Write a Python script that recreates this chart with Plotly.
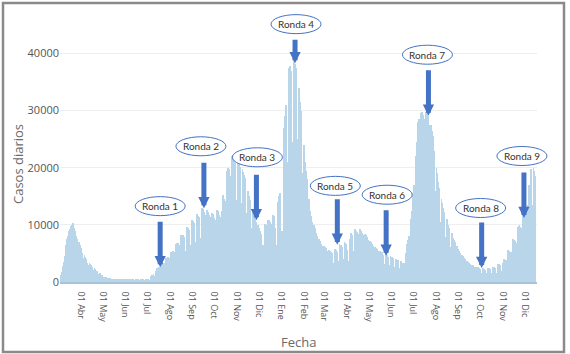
import pandas as pd
import plotly.graph_objects as go

# ---------------- data ----------------
fecha_inicio = "2020-03-02"   # first bar (Monday); one value per day

casos_diarios = [
    # 2020
    300, 500, 800, 1200, 1800, 2300, 2800,          # Mar 2
    3500, 4500, 5500, 6500, 7500, 7800, 8000,       # Mar 9
    9000, 9300, 9500, 9800, 10000, 10400, 9200,     # Mar 16
    9500, 9000, 8500, 8000, 7500, 6800, 6200,       # Mar 23
    7000, 6500, 6000, 5500, 5000, 4200, 3800,       # Mar 30
    4800, 4400, 4000, 3700, 3400, 2900, 2600,       # Apr 6
    3300, 3100, 2900, 2700, 2500, 2100, 1900,       # Apr 13
    2400, 2200, 2000, 1900, 1700, 1400, 1200,       # Apr 20
    1500, 1400, 1300, 1150, 1000, 800, 700,         # Apr 27
    900, 850, 800, 750, 700, 550, 480,              # May 4
    650, 620, 600, 580, 560, 420, 380,              # May 11
    560, 540, 520, 510, 500, 360, 320,              # May 18
    520, 500, 490, 480, 470, 340, 300,              # May 25
    500, 480, 470, 460, 450, 320, 280,              # Jun 1
    490, 470, 460, 450, 440, 310, 270,              # Jun 8
    480, 470, 460, 450, 440, 300, 270,              # Jun 15
    520, 500, 490, 480, 470, 330, 290,              # Jun 22
    600, 580, 560, 550, 540, 380, 330,              # Jun 29
    1000, 1100, 1200, 1300, 1400, 1000, 850,        # Jul 6
    2000, 2200, 2400, 2500, 2600, 1800, 1500,       # Jul 13
    3200, 3300, 3300, 3400, 3400, 2400, 2000,       # Jul 20
    4200, 4200, 4300, 4300, 4200, 3000, 2500,       # Jul 27
    5200, 5300, 5300, 5400, 5300, 3700, 3100,       # Aug 3
    6700, 6800, 6800, 6700, 6500, 4600, 3800,       # Aug 10
    8200, 8300, 8200, 8000, 7800, 5500, 4600,       # Aug 17
    9600, 9700, 9500, 9300, 9100, 6400, 5300,       # Aug 24
    10800, 10900, 10600, 10400, 10100, 7000, 5800,  # Aug 31
    11800, 11900, 11600, 11300, 11000, 7700, 6300,  # Sep 7
    12900, 13000, 12700, 12300, 11800, 8200, 6700,  # Sep 14
    12600, 12500, 12200, 11800, 11300, 7800, 6400,  # Sep 21
    12000, 11900, 11600, 11200, 10800, 7500, 6100,  # Sep 28
    12600, 12500, 12200, 11800, 11300, 7800, 6300,  # Oct 5
    12500, 15200, 15000, 14600, 14200, 9800, 8000,  # Oct 12
    19500, 20000, 19800, 19200, 18600, 12800, 10500,  # Oct 19
    22000, 22300, 22000, 21500, 20800, 14300, 11500,  # Oct 26
    22500, 22200, 21600, 21000, 20200, 13800, 11000,  # Nov 2
    19800, 19300, 18800, 18200, 17500, 12000, 9500,   # Nov 9
    16000, 15500, 15000, 14400, 13800, 9400, 7400,    # Nov 16
    12200, 11800, 11400, 11000, 10500, 7100, 5600,    # Nov 23
    10000, 9700, 9400, 9000, 8400, 5700, 4400,        # Nov 30
    6500, 6000, 9600, 10200, 10000, 6800, 5400,       # Dec 7
    10800, 10900, 10700, 10500, 10200, 7000, 5600,    # Dec 14
    11800, 11500, 11200, 9500, 6500, 6000, 5200,      # Dec 21
    14000, 15000, 15500, 14000, 9000, 8000, 9000,     # Dec 28
    # 2021
    24000, 27000, 29000, 30500, 31000, 21000, 17000,  # Jan 4
    36000, 37500, 37800, 37000, 36000, 24500, 19500,  # Jan 11
    38500, 38800, 38200, 37500, 36500, 25000, 20000,  # Jan 18
    34000, 33000, 31500, 30000, 28500, 19000, 15000,  # Jan 25
    24000, 22500, 21000, 19500, 18000, 12000, 9500,   # Feb 1
    14500, 13500, 12500, 11500, 10500, 7000, 5500,    # Feb 8
    10000, 9500, 9000, 8500, 8000, 5300, 4200,        # Feb 15
    7500, 7200, 6900, 6600, 6300, 4200, 3300,         # Feb 22
    6300, 6100, 5900, 5700, 5500, 3700, 2900,         # Mar 1
    5600, 5400, 5300, 5100, 5000, 3300, 2700,         # Mar 8
    5800, 5700, 5600, 5500, 5300, 3600, 2900,         # Mar 15
    6600, 6500, 6400, 6200, 6000, 4100, 3300,         # Mar 22
    7000, 6800, 6600, 5600, 4600, 3600, 3100,         # Mar 29
    7500, 8600, 8500, 8300, 8000, 5400, 4300,         # Apr 5
    9300, 9100, 8900, 8700, 8400, 5700, 4600,         # Apr 12
    9200, 9000, 8800, 8600, 8300, 5600, 4500,         # Apr 19
    8400, 8200, 8000, 7800, 7400, 5000, 4000,         # Apr 26
    7200, 7000, 6800, 6600, 6300, 4200, 3400,         # May 3
    6200, 6000, 5800, 5600, 5400, 3600, 2900,         # May 10
    5500, 5300, 5200, 5000, 4800, 3200, 2600,         # May 17
    5000, 4900, 4700, 4600, 4400, 3000, 2400,         # May 24
    4500, 4400, 4300, 4200, 4000, 2700, 2200,         # May 31
    4100, 4000, 3900, 3800, 3600, 2500, 2000,         # Jun 7
    3600, 3500, 3400, 3400, 3300, 2300, 1900,         # Jun 14
    5000, 5800, 6600, 7300, 8000, 5600, 4800,         # Jun 21
    11000, 12500, 14000, 15500, 17000, 12000, 10000,  # Jun 28
    22000, 24500, 26500, 28000, 28500, 20000, 16500,  # Jul 5
    29500, 29800, 29600, 29200, 28500, 20000, 16500,  # Jul 12
    29800, 29500, 29000, 28300, 27500, 19000, 15500,  # Jul 19
    27500, 26500, 25500, 24500, 23000, 16000, 13000,  # Jul 26
    20000, 19000, 17500, 16500, 15500, 10500, 8500,   # Aug 2
    14500, 13800, 13000, 12300, 11500, 7800, 6300,    # Aug 9
    11000, 10500, 10000, 9500, 9000, 6200, 5000,      # Aug 16
    8500, 8100, 7700, 7300, 7000, 4700, 3800,         # Aug 23
    6300, 6000, 5700, 5400, 5100, 3500, 2800,         # Aug 30
    4800, 4600, 4400, 4200, 4000, 2700, 2200,         # Sep 6
    3600, 3500, 3400, 3300, 3100, 2100, 1700,         # Sep 13
    3000, 2900, 2800, 2700, 2600, 1800, 1400,         # Sep 20
    2700, 2600, 2500, 2400, 2300, 1600, 1300,         # Sep 27
    2500, 2400, 2300, 2200, 2100, 1500, 1200,         # Oct 4
    2200, 2500, 2400, 2300, 2200, 1500, 1200,         # Oct 11
    2700, 2600, 2600, 2500, 2400, 1600, 1300,         # Oct 18
    3200, 3100, 3100, 3000, 2900, 2000, 1600,         # Oct 25
    3300, 4000, 4000, 3900, 3800, 2600, 2100,         # Nov 1
    5600, 5500, 5400, 5300, 5200, 3500, 2800,         # Nov 8
    7500, 7400, 7300, 7100, 6900, 4700, 3800,         # Nov 15
    9600, 9800, 9900, 9700, 9400, 6400, 5200,         # Nov 22
    12500, 12800, 13000, 12700, 12300, 8400, 6800,    # Nov 29
    13500, 17000, 15000, 19500, 19800, 13500, 11000,  # Dec 6
    20000, 19500, 18500, 17000,                       # Dec 13
]

tick_fechas = ["2020-04-01", "2020-05-01", "2020-06-01", "2020-07-01", "2020-08-01",
               "2020-09-01", "2020-10-01", "2020-11-01", "2020-12-01", "2021-01-01",
               "2021-02-01", "2021-03-01", "2021-04-01", "2021-05-01", "2021-06-01",
               "2021-07-01", "2021-08-01", "2021-09-01", "2021-10-01", "2021-11-01",
               "2021-12-01"]
tick_textos = ["01 Abr", "01 May", "01 Jun", "01 Jul", "01 Ago", "01 Sep", "01 Oct",
               "01 Nov", "01 Dic", "01 Ene", "01 Feb", "01 Mar", "01 Abr", "01 May",
               "01 Jun", "01 Jul", "01 Ago", "01 Sep", "01 Oct", "01 Nov", "01 Dic"]
y_ticks = [0, 10000, 20000, 30000, 40000]

rondas = ["Ronda 1", "Ronda 2", "Ronda 3", "Ronda 4", "Ronda 5",
          "Ronda 6", "Ronda 7", "Ronda 8", "Ronda 9"]
ronda_fechas = ["2020-07-19", "2020-09-17", "2020-11-28", "2021-01-20", "2021-03-19",
                "2021-05-25", "2021-07-22", "2021-10-03", "2021-11-30"]
ronda_valores = [2600, 12900, 10800, 38300, 6500, 4600, 29100, 2450, 11200]

# ---------------- styling (pixels) ----------------
arrow_len = [47, 47, 47, 25, 47, 47, 47, 47, 47]
label_rise = [61, 62, 63, 39, 59, 61, 61, 60, 62]
label_dx = [0, -3, 1, 1, -2, 1, -1, -1, -2]

BLUE = "#4472C4"
X_RANGE = ["2020-03-03 14:00", "2021-12-17 22:00"]
Y_RANGE = [0, 45500]

fechas = pd.date_range(fecha_inicio, periods=len(casos_diarios), freq="D")

fig = go.Figure()
fig.add_trace(go.Bar(x=fechas, y=casos_diarios,
                     marker=dict(color="#b8d5e9", line=dict(width=0)),
                     showlegend=False))

W, H = 570, 354
L, R, T, B = 60, 33, 22, 72
pw, ph = W - L - R, H - T - B

def px_x(p):
    return (p - L) / pw

def px_y(p):
    return (H - B - p) / ph

# data -> paper fraction (via the axis ranges) so that ellipses are not clipped
x0r, x1r = pd.Timestamp(X_RANGE[0]), pd.Timestamp(X_RANGE[1])
def date_to_paper(d):
    return (pd.Timestamp(d) - x0r) / (x1r - x0r)

def val_to_paper(v):
    return (v - Y_RANGE[0]) / (Y_RANGE[1] - Y_RANGE[0])

shapes = []
annotations = []
for lab, f, v, al, rise, dx in zip(rondas, ronda_fechas, ronda_valores, arrow_len, label_rise, label_dx):
    annotations.append(dict(x=f, y=v, xref="x", yref="y", text="", showarrow=True,
                            ax=0, ay=-al, arrowhead=2, arrowsize=0.45, arrowwidth=5,
                            arrowcolor=BLUE, standoff=0))
    shapes.append(dict(type="circle", xref="paper", yref="paper",
                       xsizemode="pixel", ysizemode="pixel",
                       xanchor=date_to_paper(f), yanchor=val_to_paper(v),
                       x0=dx - 25, x1=dx + 25,
                       y0=rise - 9.5, y1=rise + 9.5,
                       line=dict(color=BLUE, width=1), fillcolor="white", layer="above"))
    annotations.append(dict(x=date_to_paper(f), y=val_to_paper(v), xref="paper", yref="paper",
                            xanchor="center", yanchor="middle",
                            text=lab, showarrow=False, yshift=rise, xshift=dx,
                            font=dict(family="Lato", size=10, color="#333333")))

# outer frame
shapes.append(dict(type="rect", xref="paper", yref="paper",
                   x0=px_x(3), x1=px_x(564), y0=px_y(352), y1=px_y(3),
                   line=dict(color="#8a8a8a", width=2.5), fillcolor="rgba(0,0,0,0)",
                   layer="above"))

# axis titles
annotations.append(dict(text="Casos diarios", xref="paper", yref="paper",
                        x=px_x(18), y=px_y(164), xanchor="center", yanchor="middle",
                        textangle=-90, showarrow=False,
                        font=dict(family="Open Sans", size=13, color="#6a6a6a")))
annotations.append(dict(text="Fecha", xref="paper", yref="paper",
                        x=px_x(298), y=px_y(342), xanchor="center", yanchor="middle",
                        showarrow=False,
                        font=dict(family="Open Sans", size=13, color="#6a6a6a")))

fig.update_layout(
    width=W, height=H,
    margin=dict(l=L, r=R, t=T, b=B),
    paper_bgcolor="white", plot_bgcolor="white",
    bargap=0,
    shapes=shapes, annotations=annotations,
    font=dict(family="Open Sans", color="#555555"),
    xaxis=dict(type="date", range=X_RANGE,
               tickmode="array", tickvals=tick_fechas, ticktext=tick_textos,
               tickangle=90, tickfont=dict(size=9, color="#555555"),
               showgrid=False, zeroline=False, ticks="", ticklabelstandoff=6,
               showline=True, linecolor="#a9c3d6", linewidth=1.5),
    yaxis=dict(range=Y_RANGE, tickmode="array", tickvals=y_ticks, tickformat="d",
               tickfont=dict(size=11, color="#555555"),
               showgrid=True, gridcolor="#eeeeee", gridwidth=1,
               zeroline=False, ticks="", showline=False),
)

fig.write_html("out.html")
